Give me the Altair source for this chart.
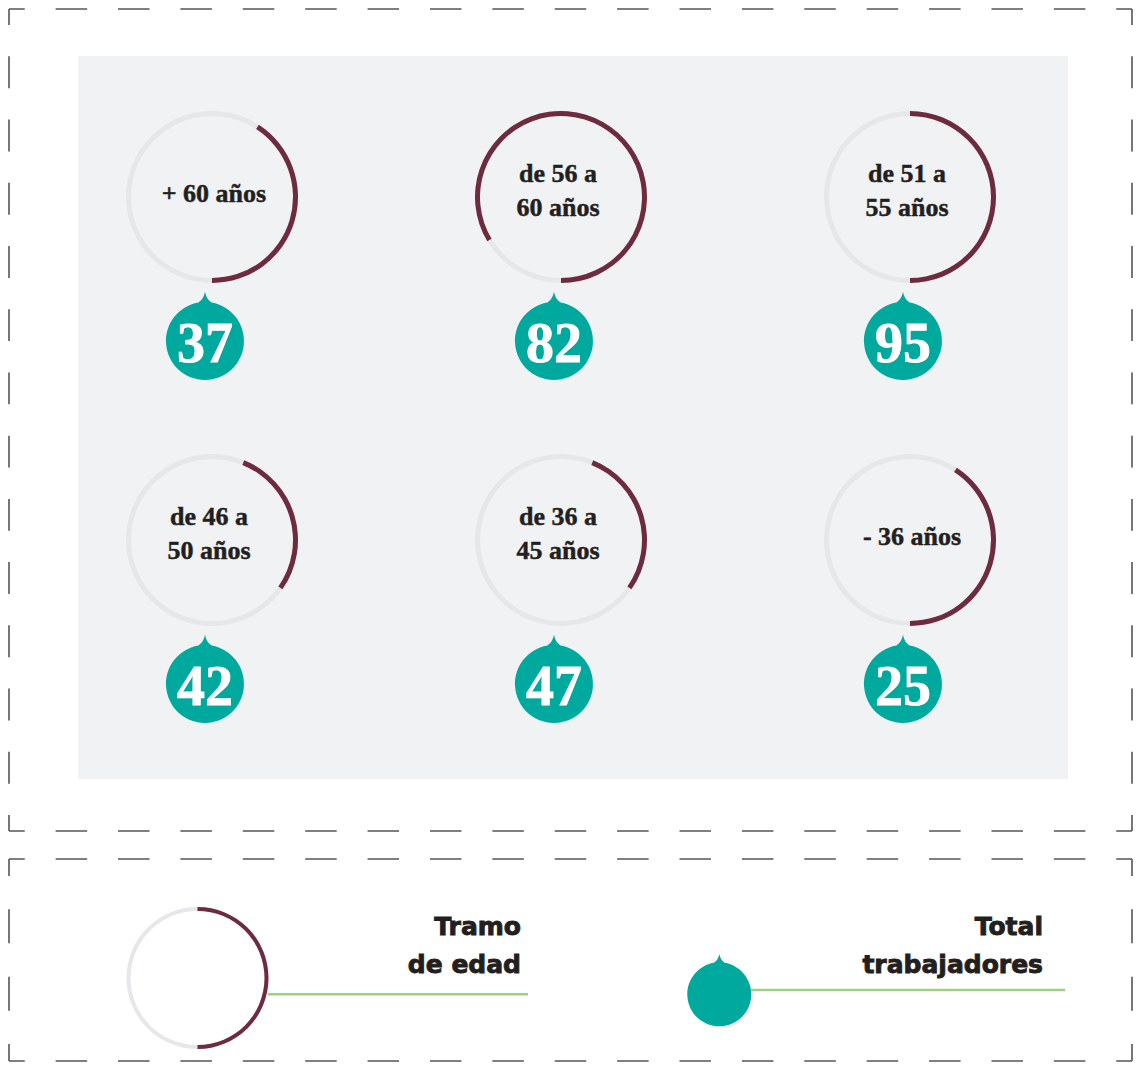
import math
import altair as alt
import pandas as pd

# ---------------- data ----------------
tramos = ["+ 60 años", "de 56 a\n60 años", "de 51 a\n55 años",
          "de 46 a\n50 años", "de 36 a\n45 años", "- 36 años"]
trabajadores = [37, 82, 95, 42, 47, 25]
# maroon arc, degrees clockwise from 12 o'clock
arco_inicio = [33, 239, 0, 22, 22, 33]
arco_fin = [180, 540, 180, 125, 125, 180]

leyenda_textos = ["Tramo\nde edad", "Total\ntrabajadores"]

# ---------------- styles ----------------
TEAL = "#00a99e"
MAROON = "#6e2b3d"
RING_GREY = "#e6e7e9"
PANEL = "#f1f2f4"
GREEN = "#9dd07f"
DASH = "#555555"
INK = "#231f20"

W, H = 1125, 1054

df = pd.DataFrame({"tramo": tramos, "total": trabajadores,
                   "a0": arco_inicio, "a1": arco_fin,
                   "idx": list(range(len(tramos)))})

X = alt.X("col:Q", scale=alt.Scale(domain=[0, 2], range=[204, 902]), axis=None)
Y = alt.Y("row:Q", scale=alt.Scale(domain=[0, 1], range=[189, 532]), axis=None)

base = alt.Chart(df).transform_calculate(
    col="datum.idx % 3",
    row="floor(datum.idx / 3)",
    t0="datum.a0 * PI / 180",
    t1="datum.a1 * PI / 180",
    g0="0",
    g1="2 * PI",
    nl="length(split(datum.tramo, '\\n'))",
)

grey_ring = base.mark_arc(radius=86, radius2=81, color=RING_GREY).encode(
    x=X, y=Y,
    theta=alt.Theta("g0:Q", scale=None, stack=None),
    theta2=alt.Theta2("g1:Q"),
)
maroon_arc = base.mark_arc(radius=86, radius2=81, color=MAROON).encode(
    x=X, y=Y,
    theta=alt.Theta("t0:Q", scale=None, stack=None),
    theta2=alt.Theta2("t1:Q"),
)
label_style = dict(font="Liberation Serif", fontWeight="bold", fontSize=26, color=INK,
                   stroke=INK, strokeWidth=0.45,
                   align="center", baseline="alphabetic", lineBreak="\n", lineHeight=33.5)
labels2 = base.transform_filter("datum.nl > 1").mark_text(
    dx=-3, dy=-15, **label_style).encode(x=X, y=Y, text="tramo:N")
labels1 = base.transform_filter("datum.nl == 1").mark_text(
    dx=2, dy=5, **label_style).encode(x=X, y=Y, text="tramo:N")

DROP = ("M 0 -1.27 C 0.02 -1.17 0.05 -1.07 0.17 -0.985 "
        "A 1 1 0 1 1 -0.17 -0.985 C -0.05 -1.07 -0.02 -1.17 0 -1.27 Z")

drops = base.mark_point(shape=DROP, size=78 ** 2, filled=True, fill=TEAL,
                        opacity=1, strokeWidth=0, xOffset=-7, yOffset=144).encode(x=X, y=Y)
numbers = base.mark_text(
    font="Liberation Serif", fontWeight="bold", fontSize=56, color="white",
    stroke="white", strokeWidth=0.8,
    align="center", baseline="alphabetic", dx=-7, dy=165,
).encode(x=X, y=Y, text="total:Q")

# ---------------- decoration ----------------
one = pd.DataFrame({"k": [0]})


def deco():
    return alt.Chart(one)


panel = deco().mark_rect(fill=PANEL).encode(
    x=alt.value(70), x2=alt.value(1060), y=alt.value(48), y2=alt.value(771))


def edge(x1, y1, x2, y2, n):
    length = math.hypot(x2 - x1, y2 - y1)
    p = length / n
    d = p * 0.505
    return deco().mark_rule(color=DASH, strokeWidth=1.6, strokeDash=[d, p - d],
                            strokeDashOffset=d / 2).encode(
        x=alt.value(x1), x2=alt.value(x2), y=alt.value(y1), y2=alt.value(y2))


L, R = 1, W - 1
T1, B1, T2, B2 = 1, 823, 851, H - 1
frames = [
    edge(L, T1, R, T1, 18), edge(L, B1, R, B1, 18),
    edge(L, T1, L, B1, 13), edge(R, T1, R, B1, 13),
    edge(L, T2, R, T2, 18), edge(L, B2, R, B2, 18),
    edge(L, T2, L, B2, 3), edge(R, T2, R, B2, 3),
]

leg_df = pd.DataFrame({"g0": [0.0], "g1": [2 * math.pi], "m0": [0.0], "m1": [math.pi]})
leg_grey = alt.Chart(leg_df).mark_arc(radius=71, radius2=67, color=RING_GREY).encode(
    x=alt.value(189.5), y=alt.value(970),
    theta=alt.Theta("g0:Q", scale=None, stack=None), theta2=alt.Theta2("g1:Q"))
leg_maroon = alt.Chart(leg_df).mark_arc(radius=71, radius2=67, color=MAROON).encode(
    x=alt.value(189.5), y=alt.value(970),
    theta=alt.Theta("m0:Q", scale=None, stack=None), theta2=alt.Theta2("m1:Q"))

leg_line1 = deco().mark_rule(color=GREEN, strokeWidth=2.5).encode(
    x=alt.value(260), x2=alt.value(520), y=alt.value(986.3))
leg_line2 = deco().mark_rule(color=GREEN, strokeWidth=2.5).encode(
    x=alt.value(743), x2=alt.value(1057), y=alt.value(982))
leg_drop = deco().mark_point(shape=DROP, size=64 ** 2, filled=True, fill=TEAL,
                             opacity=1, strokeWidth=0).encode(
    x=alt.value(711.3), y=alt.value(986.3))

leg_txt_df = pd.DataFrame({"t": leyenda_textos, "i": [0, 1]})
leg_style = dict(font="DejaVu Sans", fontWeight="bold", fontSize=25, color=INK,
                 stroke=INK, strokeWidth=0.9,
                 align="right", baseline="alphabetic", lineBreak="\n", lineHeight=37.5)
leg_text1 = alt.Chart(leg_txt_df).transform_filter("datum.i == 0").mark_text(
    **leg_style).encode(x=alt.value(513), y=alt.value(927), text="t:N")
leg_text2 = alt.Chart(leg_txt_df).transform_filter("datum.i == 1").mark_text(
    **leg_style).encode(x=alt.value(1035), y=alt.value(927), text="t:N")

chart = alt.layer(
    panel, *frames, grey_ring, maroon_arc, labels1, labels2, drops, numbers,
    leg_grey, leg_maroon, leg_line1, leg_line2, leg_drop, leg_text1, leg_text2,
).properties(
    width=W, height=H, padding=0, autosize="none", background="white",
).configure_view(strokeWidth=0)

chart.save("out.html", embed_options={"renderer": "svg", "actions": False})
